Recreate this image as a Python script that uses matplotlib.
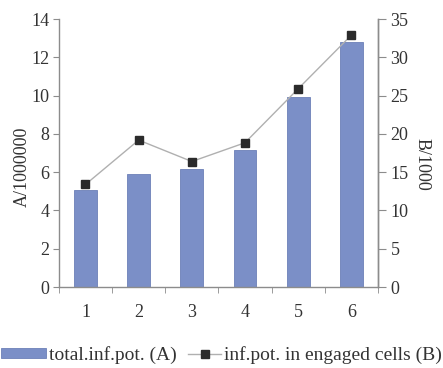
import numpy as np
import matplotlib
matplotlib.use("Agg")
import matplotlib.pyplot as plt
from matplotlib.legend_handler import HandlerLine2D

plt.rcParams["font.family"] = ["Liberation Serif", "DejaVu Serif"]

categories = [1, 2, 3, 4, 5, 6]
total_inf_pot = [5.05, 5.9, 6.15, 7.15, 9.95, 12.8]
engaged_inf_pot = [13.4, 19.2, 16.4, 18.85, 25.9, 32.9]

grey = "#8c8c8c"
text_c = "#333333"

fig = plt.figure(figsize=(4.43, 3.68), dpi=100)
ax = fig.add_axes([0.133, 0.22, 0.72, 0.728])
ax2 = ax.twinx()

x = np.array(categories)
bars = ax.bar(x, total_inf_pot, width=0.43, color="#7b8fc7", edgecolor="#6d80b8",
              linewidth=0.6, label="total.inf.pot. (A)", zorder=2)
line, = ax2.plot(x, engaged_inf_pot, color="#b0b0b0", linewidth=1.0, marker="s",
                 markersize=6, markerfacecolor="#2b2b2b", markeredgecolor="#2b2b2b",
                 label="inf.pot. in engaged cells (B)")

ax.set_xlim(0.5, 6.5)
ax.set_ylim(0, 14)
ax2.set_ylim(0, 35)
ax.set_yticks(range(0, 15, 2))
ax2.set_yticks(range(0, 36, 5))
ax.set_xticks(x)
ax.set_xticks(np.arange(0.5, 7, 1), minor=True)

for a in (ax, ax2):
    a.spines["top"].set_visible(False)
    for s in a.spines.values():
        s.set_color(grey)
        s.set_linewidth(1.0)
ax2.spines["left"].set_visible(False)
ax2.spines["bottom"].set_visible(False)

ax.tick_params(axis="x", which="major", length=0, pad=12, labelsize=13, labelcolor=text_c)
ax.tick_params(axis="x", which="minor", length=4, color=grey, direction="out")
ax.tick_params(axis="y", length=4, color=grey, direction="out", labelsize=13, labelcolor=text_c, pad=3)
ax2.tick_params(axis="y", length=6, color=grey, direction="out", labelsize=13, labelcolor=text_c, pad=3)

ax.set_ylabel("A/1000000", fontsize=13, color=text_c)
ax.yaxis.set_label_coords(-0.088, 0.448)
ax2.set_ylabel("B/1000", fontsize=13, color=text_c, rotation=-90, va="center")
ax2.yaxis.set_label_coords(1.138, 0.459)

fig.legend([bars, line], ["total.inf.pot. (A)", "inf.pot. in engaged cells (B)"],
           loc="center", bbox_to_anchor=(0.5, 0.035), ncol=2, frameon=False,
           fontsize=14, handlelength=2.3, handleheight=0.45, handletextpad=0.15,
           columnspacing=0.0, borderpad=0.1, labelcolor=text_c,
           handler_map={line: HandlerLine2D(xpad=0.6)})

fig.savefig("out.png", dpi=100)
